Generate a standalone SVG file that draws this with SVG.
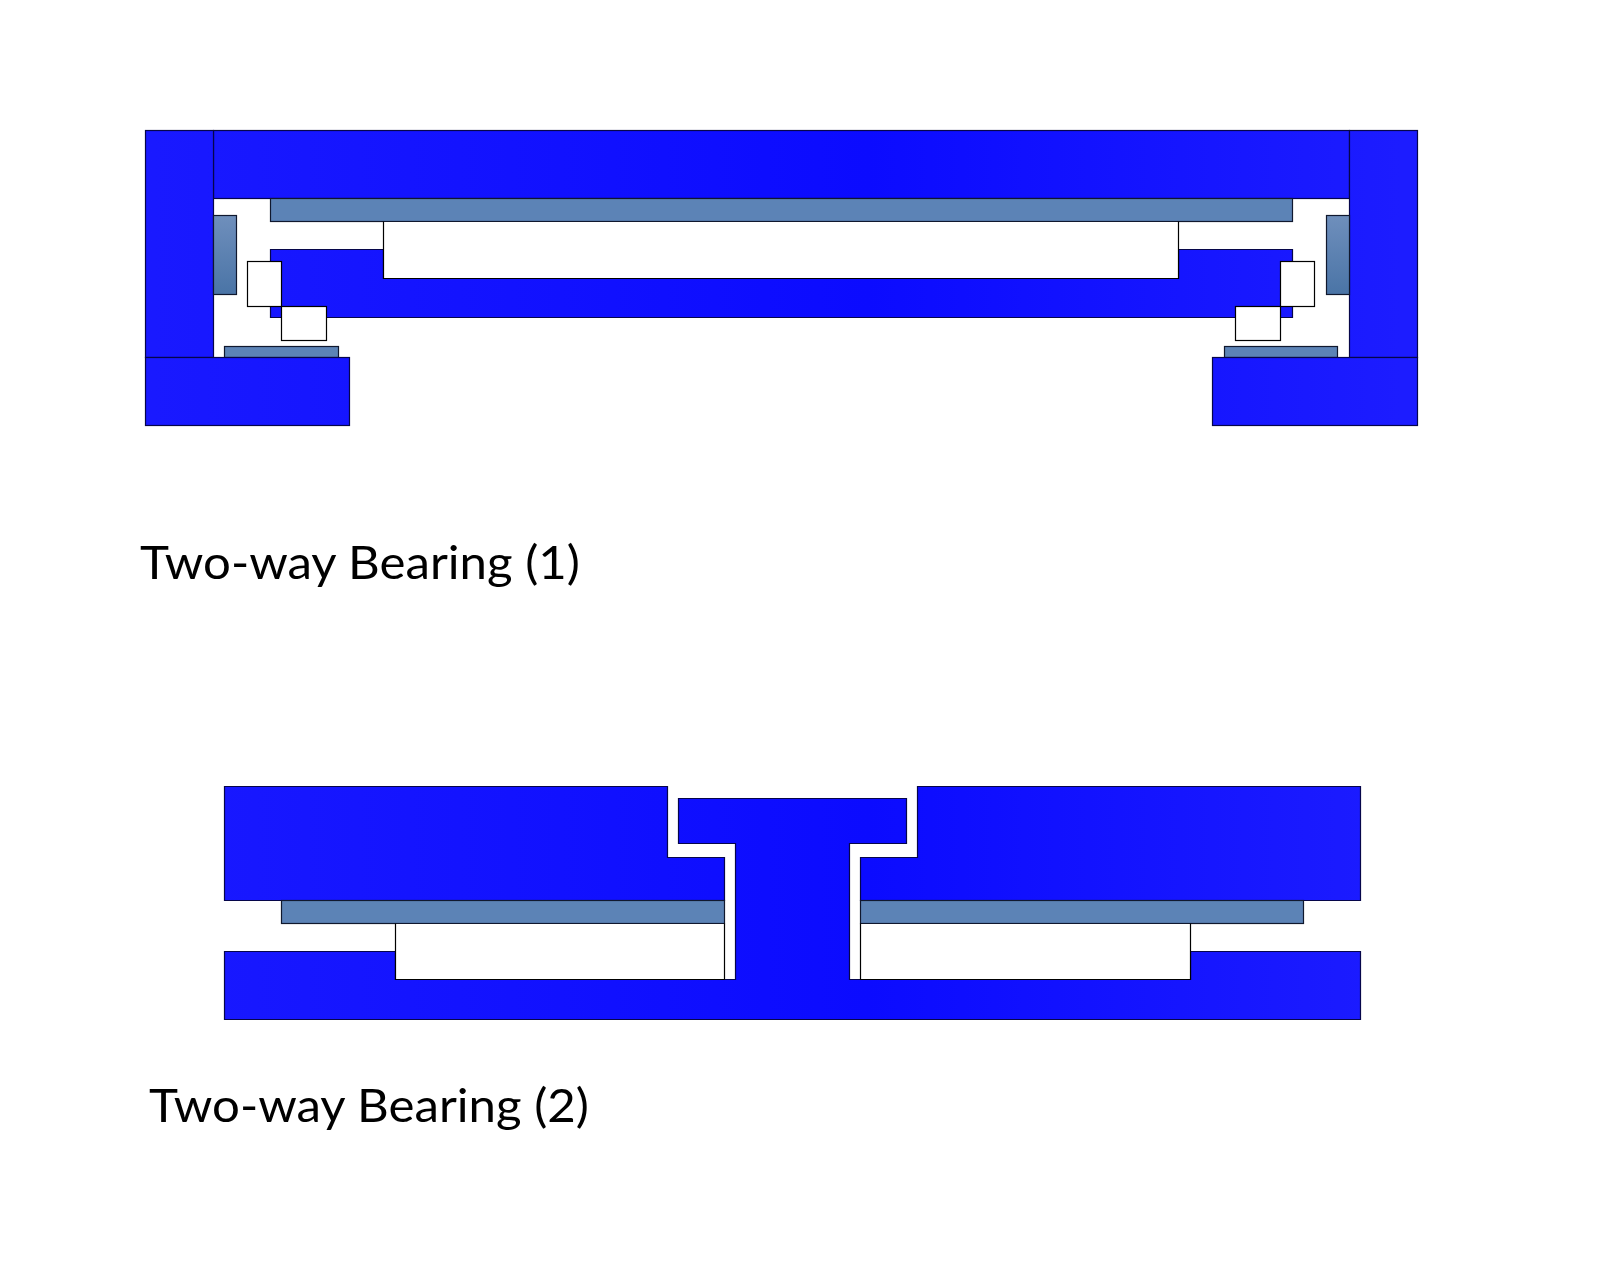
<svg xmlns="http://www.w3.org/2000/svg" width="1600" height="1280" viewBox="0 0 1600 1280">
<defs>
<linearGradient id="blue" gradientUnits="userSpaceOnUse" x1="0" y1="0" x2="1400" y2="0"><stop offset="0" stop-color="#1c1cff"/><stop offset="0.62" stop-color="#0b0bff"/><stop offset="1" stop-color="#1c1cff"/></linearGradient>
<linearGradient id="side" x1="0" y1="0" x2="0" y2="1"><stop offset="0" stop-color="#6f8fbc"/><stop offset="1" stop-color="#4a74a6"/></linearGradient>
</defs>
<style>
.b{fill:url(#blue);stroke:#06064a;stroke-width:1.2}
.g{fill:#5c83b6;stroke:#10182e;stroke-width:1.2}
.s{fill:url(#side);stroke:#10182e;stroke-width:1.2}
.w{fill:#fff;stroke:#000;stroke-width:1.2}
.l{fill:none;stroke:#000;stroke-width:1.2}
.t{font-family:Lato,Carlito,"Open Sans",sans-serif;font-size:47px;fill:#000}
</style>
<rect width="1600" height="1280" fill="#fff"/>
<g id="bearing-1">
<g id="b1-top"><rect class="b" x="213.5" y="130.5" width="1136" height="68"/></g>
<g id="b1-left-col"><rect class="b" x="145.5" y="130.5" width="68" height="227"/></g>
<g id="b1-right-col"><rect class="b" x="1349.5" y="130.5" width="68" height="227"/></g>
<g id="b1-race-top"><rect class="g" x="270.5" y="198.5" width="1022" height="23"/></g>
<g id="b1-race-left"><rect class="s" x="213.5" y="215.5" width="23" height="79"/></g>
<g id="b1-race-right"><rect class="s" x="1326.5" y="215.5" width="23" height="79"/></g>
<g id="b1-inner"><path class="b" d="M270.5 249.5H383.5V278.5H1178.5V249.5H1292.5V317.5H270.5Z"/></g>
<g id="b1-recess"><path fill="#fff" d="M383.5 222H1178.5V278H383.5Z"/><path class="l" d="M383.5 221.5V278.5H1178.5V221.5"/></g>
<g id="b1-roller-l1"><rect class="w" x="247.5" y="261.5" width="34" height="45"/></g>
<g id="b1-roller-l2"><rect class="w" x="281.5" y="306.5" width="45" height="34"/></g>
<g id="b1-roller-r1"><rect class="w" x="1280.5" y="261.5" width="34" height="45"/></g>
<g id="b1-roller-r2"><rect class="w" x="1235.5" y="306.5" width="45" height="34"/></g>
<g id="b1-race-bl"><rect class="g" x="224.5" y="346.5" width="114" height="11"/></g>
<g id="b1-race-br"><rect class="g" x="1224.5" y="346.5" width="113" height="11"/></g>
<g id="b1-base-l"><rect class="b" x="145.5" y="357.5" width="204" height="68"/></g>
<g id="b1-base-r"><rect class="b" x="1212.5" y="357.5" width="205" height="68"/></g>
</g>
<text class="t" x="140" y="579" textLength="440" lengthAdjust="spacingAndGlyphs">Two-way Bearing (1)</text>
<g id="bearing-2">
<g id="b2-left"><path class="b" d="M224.5 786.5H667.5V857.5H724.5V900.5H224.5Z"/></g>
<g id="b2-right"><path class="b" d="M917.5 786.5H1360.5V900.5H860.5V857.5H917.5Z"/></g>
<g id="b2-race-l"><rect class="g" x="281.5" y="900.5" width="443" height="23"/></g>
<g id="b2-race-r"><rect class="g" x="860.5" y="900.5" width="443" height="23"/></g>
<g id="b2-shaft"><path class="b" d="M678.5 798.5H906.5V843.5H849.5V979.5H1190.5V951.5H1360.5V1019.5H224.5V951.5H395.5V979.5H735.5V843.5H678.5Z"/></g>
<g id="b2-recess-l"><path fill="#fff" d="M396 924H724V979H396Z"/><path class="l" d="M395.5 923.5V979.5H724.5M724.5 923.5V979.5"/></g>
<g id="b2-recess-r"><path fill="#fff" d="M861 924H1190V979H861Z"/><path class="l" d="M1190.5 923.5V979.5H860.5V923.5"/></g>
</g>
<text class="t" x="149" y="1122" textLength="440" lengthAdjust="spacingAndGlyphs">Two-way Bearing (2)</text>
</svg>
